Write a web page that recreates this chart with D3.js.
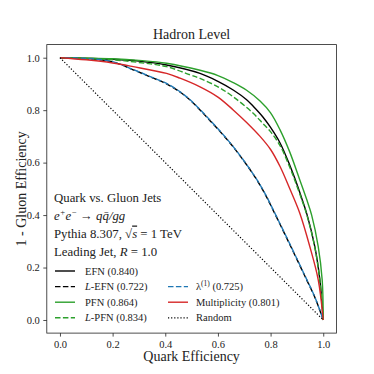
<!DOCTYPE html>
<html>
<head>
<meta charset="utf-8">
<script src="https://cdn.jsdelivr.net/npm/d3@7"></script>
<style>
  body { margin: 0; background: #fff; }
  svg text { font-family: "Liberation Serif", "DejaVu Serif", serif; }
  .tick text { font-size: 10.5px; fill: #222; }
</style>
</head>
<body>
<svg id="chart" width="374" height="374"></svg>
<script>
// ROC curves: [quark eff, 1 - gluon eff]
var efn = [[0,1],[0.2,0.994],[0.3,0.987],[0.405,0.972],[0.532,0.94],[0.6,0.91],[0.658,0.877],[0.709,0.84],[0.734,0.815],[0.77,0.775],[0.798,0.737],[0.836,0.675],[0.873,0.59],[0.892,0.54],[0.918,0.465],[0.939,0.4],[0.968,0.28],[0.987,0.155],[1,0]];
var lefn = [[0,1],[0.1,0.996],[0.2,0.984],[0.278,0.954],[0.35,0.924],[0.405,0.9],[0.481,0.85],[0.57,0.76],[0.658,0.66],[0.741,0.545],[0.78,0.478],[0.81,0.418],[0.873,0.288],[0.937,0.153],[0.97,0.082],[1,0]];
var pfn = [[0,1],[0.2,0.996],[0.3,0.99],[0.405,0.979],[0.532,0.952],[0.6,0.932],[0.658,0.905],[0.709,0.876],[0.76,0.835],[0.80,0.79],[0.836,0.725],[0.873,0.64],[0.911,0.534],[0.937,0.46],[0.956,0.40],[0.981,0.28],[0.996,0.153],[1,0]];
var lpfn = [[0,1],[0.2,0.992],[0.3,0.982],[0.405,0.966],[0.494,0.935],[0.532,0.921],[0.6,0.889],[0.658,0.851],[0.734,0.788],[0.77,0.75],[0.798,0.72],[0.836,0.665],[0.873,0.582],[0.892,0.533],[0.918,0.46],[0.939,0.396],[0.968,0.277],[0.987,0.152],[1,0]];
var lambda1 = [[0,1],[0.1,0.997],[0.2,0.985],[0.278,0.955],[0.35,0.925],[0.405,0.902],[0.481,0.851],[0.57,0.762],[0.658,0.661],[0.741,0.546],[0.78,0.48],[0.81,0.42],[0.873,0.29],[0.937,0.155],[0.97,0.083],[1,0]];
var mult = [[0,1],[0.1,0.992],[0.2,0.98],[0.278,0.966],[0.405,0.94],[0.456,0.922],[0.532,0.889],[0.6,0.85],[0.658,0.801],[0.709,0.753],[0.76,0.70],[0.80,0.65],[0.836,0.585],[0.873,0.50],[0.911,0.407],[0.949,0.28],[0.981,0.153],[1,0]];
var random = [[0,1],[1,0]];

var tickVals = [0, 0.2, 0.4, 0.6, 0.8, 1.0];

var series = [
  {name: "EFN", auc: "0.840", data: efn, color: "#000", dash: null, col: 0, row: 0},
  {name: "L-EFN", auc: "0.722", data: lefn, color: "#000", dash: "5.5,2.4", col: 0, row: 1},
  {name: "PFN", auc: "0.864", data: pfn, color: "#2ca02c", dash: null, col: 0, row: 2},
  {name: "L-PFN", auc: "0.834", data: lpfn, color: "#2ca02c", dash: "5.5,2.4", col: 0, row: 3},
  {name: "lambda", auc: "0.725", data: lambda1, color: "#1f77b4", dash: "5.5,2.4", offset: 3, col: 1, row: 1},
  {name: "Multiplicity", auc: "0.801", data: mult, color: "#d62728", dash: null, col: 1, row: 2},
  {name: "Random", auc: null, data: random, color: "#000", dash: "1.2,1.9", col: 1, row: 3}
];

var svg = d3.select("#chart");

var x = d3.scaleLinear().domain([-0.05, 1.05]).range([46.8, 336.4]);
var y = d3.scaleLinear().domain([-0.05, 1.05]).range([333.1, 44.6]);

// axes
svg.append("g")
    .attr("transform", "translate(0," + y(-0.05) + ")")
    .call(d3.axisBottom(x).tickValues(tickVals).tickFormat(d3.format(".1f")).tickSize(3.5).tickPadding(3.5));
svg.append("g")
    .attr("transform", "translate(" + x(-0.05) + ",0)")
    .call(d3.axisLeft(y).tickValues(tickVals).tickFormat(d3.format(".1f")).tickSize(3.5).tickPadding(3.5));
svg.selectAll(".domain").remove();
svg.selectAll(".tick line").attr("stroke", "#222").attr("stroke-width", 0.8);

// curves
var line = d3.line()
    .x(function(d) { return x(d[0]); })
    .y(function(d) { return y(d[1]); })
    .curve(d3.curveCatmullRom.alpha(0.5));

series.forEach(function(s) {
  svg.append("path")
    .datum(s.data)
    .attr("d", line)
    .attr("fill", "none")
    .attr("stroke", s.color)
    .attr("stroke-width", s.name == "Random" ? 1.2 : 1.4)
    .attr("stroke-dasharray", s.dash)
    .attr("stroke-dashoffset", s.offset || 0);
});

// frame
svg.append("rect")
    .attr("x", x(-0.05)).attr("y", y(1.05))
    .attr("width", x(1.05) - x(-0.05)).attr("height", y(-0.05) - y(1.05))
    .attr("fill", "none").attr("stroke", "#222").attr("stroke-width", 0.8);

// title and axis labels
svg.append("text").attr("x", x(0.5)).attr("y", 39).attr("text-anchor", "middle")
    .attr("font-size", 14).attr("fill", "#222").text("Hadron Level");
svg.append("text").attr("x", x(0.5)).attr("y", 361).attr("text-anchor", "middle")
    .attr("font-size", 14).attr("fill", "#222").text("Quark Efficiency");
svg.append("text").attr("transform", "translate(26," + y(0.5) + ") rotate(-90)")
    .attr("text-anchor", "middle").attr("font-size", 14).attr("fill", "#222").text("1 - Gluon Efficiency");

// annotation block
var ann = svg.append("g").attr("font-size", 12.8).attr("fill", "#222");
ann.append("text").attr("x", 54).attr("y", 201.5).text("Quark vs. Gluon Jets");
var t2 = ann.append("text").attr("x", 54).attr("y", 219.5).attr("font-style", "italic");
t2.append("tspan").text("e");
t2.append("tspan").attr("font-size", 8.5).attr("dy", -5).text("+");
t2.append("tspan").attr("dy", 5).text("e");
t2.append("tspan").attr("font-size", 8.5).attr("dy", -5).text("\u2212");
t2.append("tspan").attr("dy", 5).attr("font-style", "normal").text(" \u2192 ");
t2.append("tspan").text("q\u0071\u0304/gg");
var t3 = ann.append("text").attr("x", 54).attr("y", 237.5);
t3.append("tspan").text("Pythia 8.307, \u221A");
t3.append("tspan").attr("font-style", "italic").attr("text-decoration", "overline").text("s");
t3.append("tspan").text(" = 1 TeV");
var t4 = ann.append("text").attr("x", 54).attr("y", 255.5);
t4.append("tspan").text("Leading Jet, ");
t4.append("tspan").attr("font-style", "italic").text("R");
t4.append("tspan").text(" = 1.0");

// legend
var legCols = [{x0: 55, x1: 75, tx: 85}, {x0: 168, x1: 188, tx: 196}];
var legRow0 = 271, legStep = 15.6;
var leg = svg.append("g").attr("font-size", 10.5).attr("fill", "#222");
series.forEach(function(s) {
  var c = legCols[s.col], ry = legRow0 + s.row * legStep;
  leg.append("line").attr("x1", c.x0).attr("x2", c.x1).attr("y1", ry).attr("y2", ry)
    .attr("stroke", s.color).attr("stroke-width", s.name == "Random" ? 1.2 : 1.4)
    .attr("stroke-dasharray", s.dash);
  var t = leg.append("text").attr("x", c.tx).attr("y", ry + 3.6);
  if (s.name == "L-EFN" || s.name == "L-PFN") {
    t.append("tspan").attr("font-style", "italic").text("L");
    t.append("tspan").text(s.name.slice(1) + " (" + s.auc + ")");
  } else if (s.name == "lambda") {
    t.append("tspan").text("\u03BB");
    t.append("tspan").attr("font-size", 7.5).attr("dy", -4).text("(1)");
    t.append("tspan").attr("dy", 4).text(" (" + s.auc + ")");
  } else if (s.auc) {
    t.text(s.name + " (" + s.auc + ")");
  } else {
    t.text(s.name);
  }
});
</script>
</body>
</html>
